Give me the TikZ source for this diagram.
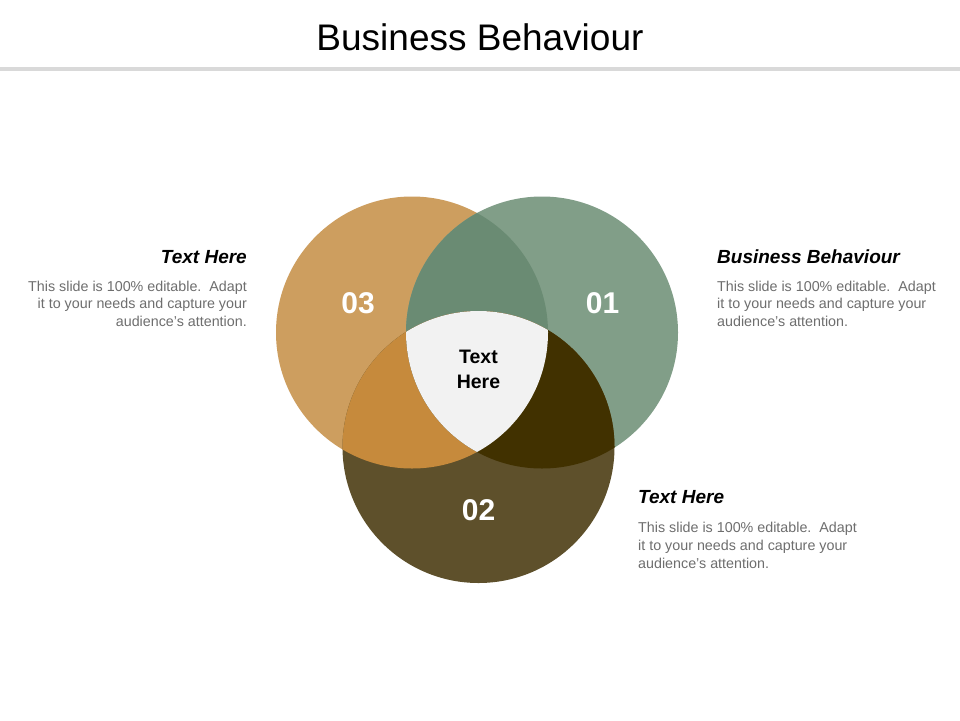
\documentclass[tikz,border=0pt]{standalone}
\usepackage{fontspec}
\setmainfont{Liberation Sans}
\usetikzlibrary{positioning}

\definecolor{circOrange}{HTML}{CD9E5F}
\definecolor{circGreen}{HTML}{819E88}
\definecolor{circOlive}{HTML}{5E502B}
\definecolor{capOrangeGreen}{HTML}{6A8B73}
\definecolor{capOrangeOlive}{HTML}{C68A3C}
\definecolor{capGreenOlive}{HTML}{413100}
\definecolor{capCenter}{HTML}{F2F2F2}
\definecolor{ruleGray}{HTML}{D9D9D9}
\definecolor{bodyGray}{HTML}{6E6E6E}

\tikzset{
	numtext/.style={text=white, inner sep=0pt, anchor=base, font=\fontsize{30}{30}\selectfont\bfseries},
	headtext/.style={inner sep=0pt, font=\fontsize{19}{22}\selectfont\bfseries\itshape},
	bodytext/.style={inner sep=0pt, text=bodyGray, font=\fontsize{14.3}{17.8}\selectfont},
}

\def\circL{(412, 332.5) circle (136pt)}
\def\circR{(542, 332.5) circle (136pt)}
\def\circB{(478.5, 447) circle (136pt)}

\begin{document}
\begin{tikzpicture}[x=1pt, y=-1pt]
		%%%%% START %%%%%
		\useasboundingbox[fill=white] (0, 0) rectangle (960, 720);
		
		\node[inner sep=0pt, anchor=base, font=\fontsize{37}{40}\selectfont] (title) at (480, 50) {Business Behaviour};
		\fill[ruleGray] (0, 67) rectangle (960, 71);
		
		\fill[circOrange] \circL;
		\fill[circGreen] \circR;
		\fill[circOlive] \circB;
		
		\begin{scope}
			\clip \circL;
			\fill[capOrangeGreen] \circR;
		\end{scope}
		\begin{scope}
			\clip \circL;
			\fill[capOrangeOlive] \circB;
		\end{scope}
		\begin{scope}
			\clip \circR;
			\fill[capGreenOlive] \circB;
		\end{scope}
		\begin{scope}
			\clip \circL;
			\clip \circR;
			\fill[capCenter] \circB;
		\end{scope}
		
		\node[numtext] (num03) at (358, 313) {03};
		\node[numtext] (num01) at (602.5, 313) {01};
		\node[numtext] (num02) at (478.5, 520) {02};
		
		\node[inner sep=0pt, anchor=base, align=center, font=\fontsize{19.5}{25}\selectfont\bfseries] (centertext) at (478.5, 388) {Text\\Here};
		
		\node[headtext, anchor=base east] (headleft) at (247, 263) {Text Here};
		\node[bodytext, anchor=north east, align=right] (bodyleft) at (247, 280.5) {This slide is 100\% editable.\ \ Adapt\\it to your needs and capture your\\audience's attention.};
		
		\node[headtext, anchor=base west] (headright) at (717, 263) {Business Behaviour};
		\node[bodytext, anchor=north west, align=left] (bodyright) at (717, 280.5) {This slide is 100\% editable.\ \ Adapt\\it to your needs and capture your\\audience's attention.};
		
		\node[headtext, anchor=base west] (headbottom) at (638, 503) {Text Here};
		\node[bodytext, anchor=north west, align=left] (bodybottom) at (638, 522) {This slide is 100\% editable.\ \ Adapt\\it to your needs and capture your\\audience's attention.};
		
		%%%%% END %%%%%
\end{tikzpicture}
\end{document}
